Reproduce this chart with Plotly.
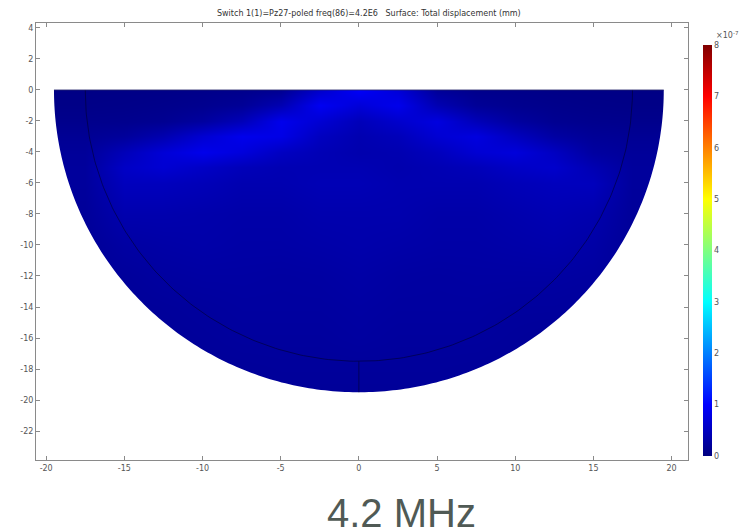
import numpy as np
import plotly.graph_objects as go

# ---- data (displacement, units of 1e-7 mm) ----
x_grid = [-20, -17.5, -15, -12.5, -10, -7.5, -5, -2.5, 0, 2.5, 5, 7.5, 10, 12.5, 15, 17.5, 20]
y_grid = [0, -1, -2, -3, -4, -5, -6, -8, -10, -12, -14, -16, -18, -20]
disp = [
    [0.04, 0.04, 0.05, 0.06, 0.08, 0.10, 0.15, 0.60, 0.95, 0.70, 0.20, 0.10, 0.08, 0.06, 0.05, 0.04, 0.04],
    [0.06, 0.06, 0.07, 0.09, 0.12, 0.18, 0.40, 0.90, 0.70, 0.85, 0.40, 0.18, 0.12, 0.09, 0.07, 0.06, 0.06],
    [0.10, 0.10, 0.11, 0.14, 0.25, 0.45, 0.85, 0.65, 0.45, 0.60, 0.75, 0.45, 0.25, 0.14, 0.11, 0.10, 0.10],
    [0.16, 0.16, 0.22, 0.38, 0.65, 0.85, 0.80, 0.50, 0.38, 0.45, 0.65, 0.75, 0.50, 0.28, 0.18, 0.16, 0.16],
    [0.20, 0.20, 0.45, 0.68, 0.85, 0.72, 0.52, 0.42, 0.36, 0.38, 0.48, 0.65, 0.72, 0.52, 0.26, 0.20, 0.20],
    [0.22, 0.22, 0.55, 0.65, 0.55, 0.45, 0.40, 0.40, 0.40, 0.36, 0.40, 0.45, 0.55, 0.60, 0.40, 0.22, 0.22],
    [0.22, 0.22, 0.48, 0.48, 0.44, 0.38, 0.38, 0.42, 0.42, 0.38, 0.38, 0.38, 0.44, 0.48, 0.48, 0.22, 0.22],
    [0.20, 0.20, 0.36, 0.36, 0.34, 0.32, 0.32, 0.36, 0.36, 0.36, 0.32, 0.32, 0.36, 0.40, 0.36, 0.20, 0.20],
    [0.18, 0.18, 0.27, 0.30, 0.32, 0.30, 0.30, 0.32, 0.34, 0.32, 0.30, 0.30, 0.32, 0.34, 0.30, 0.18, 0.18],
    [0.18, 0.18, 0.21, 0.25, 0.27, 0.27, 0.26, 0.27, 0.30, 0.27, 0.26, 0.27, 0.27, 0.27, 0.25, 0.18, 0.18],
    [0.18, 0.18, 0.19, 0.21, 0.23, 0.25, 0.25, 0.25, 0.27, 0.25, 0.25, 0.25, 0.23, 0.23, 0.21, 0.18, 0.18],
    [0.18, 0.18, 0.18, 0.19, 0.21, 0.23, 0.23, 0.23, 0.25, 0.23, 0.23, 0.23, 0.21, 0.19, 0.18, 0.18, 0.18],
    [0.18, 0.18, 0.18, 0.18, 0.19, 0.20, 0.21, 0.21, 0.21, 0.21, 0.21, 0.20, 0.19, 0.18, 0.18, 0.18, 0.18],
    [0.18, 0.18, 0.18, 0.18, 0.18, 0.19, 0.19, 0.19, 0.19, 0.19, 0.19, 0.19, 0.18, 0.18, 0.18, 0.18, 0.18],
]
outer_radius = 19.5
inner_radius = 17.5

x_ticks = [-20, -15, -10, -5, 0, 5, 10, 15, 20]
x_tick_text = ["-20", "-15", "-10", "-5", "0", "5", "10", "15", "20"]
y_ticks = [4, 2, 0, -2, -4, -6, -8, -10, -12, -14, -16, -18, -20, -22]
y_tick_text = ["4", "2", "0", "-2", "-4", "-6", "-8", "-10", "-12", "-14", "-16", "-18", "-20", "-22"]
cbar_ticks = [0, 1, 2, 3, 4, 5, 6, 7, 8]
cbar_tick_text = ["0", "1", "2", "3", "4", "5", "6", "7", "8"]

title_text = "Switch 1(1)=Pz27-poled freq(86)=4.2E6   Surface: Total displacement (mm)"
caption_text = "4.2 MHz"

jet = [
    [0.0, "rgb(0,0,128)"],
    [0.125, "rgb(0,0,255)"],
    [0.375, "rgb(0,255,255)"],
    [0.625, "rgb(255,255,0)"],
    [0.875, "rgb(255,0,0)"],
    [1.0, "rgb(128,0,0)"],
]

# page body has an 8px default margin; figure is sized/margined to compensate
W, H = 743, 522
ML, MR, MT, MB = 25, 63, 15, 70
PW, PH = W - ML - MR, H - MT - MB

fig = go.Figure()
fig.add_trace(go.Heatmap(
    x=x_grid, y=y_grid, z=disp, zmin=0, zmax=8, zsmooth="best",
    colorscale=jet, showscale=True, hoverinfo="skip",
    colorbar=dict(
        x=(695 - ML) / PW, xanchor="left", xpad=0,
        y=(MT + PH - 242.5) / PH, yanchor="middle", ypad=0,
        thickness=9, len=411, lenmode="pixels",
        outlinewidth=0, tickvals=cbar_ticks, ticktext=cbar_tick_text,
        ticks="", tickfont=dict(family="DejaVu Sans", size=8, color="#555555"),
        ticklabelposition="outside",
    ),
))

# white mask outside the half-disc (domain geometry)
theta = np.linspace(np.pi, 2 * np.pi, 240)
mx = [-22, -outer_radius] + list(outer_radius * np.cos(theta)) + [outer_radius, 22, 22, -22]
my = [0, 0] + list(outer_radius * np.sin(theta)) + [0, 0, -26, -26]
fig.add_trace(go.Scatter(x=mx, y=my, fill="toself", fillcolor="white", mode="none",
                         hoverinfo="skip", showlegend=False))
fig.add_trace(go.Scatter(x=[-22, 22, 22, -22], y=[0, 0, 6, 6], fill="toself", fillcolor="white",
                         mode="none", hoverinfo="skip", showlegend=False))

# boundary lines
fig.add_trace(go.Scatter(x=list(inner_radius * np.cos(theta)), y=list(inner_radius * np.sin(theta)),
                         mode="lines", line=dict(color="rgba(0,0,50,0.6)", width=1),
                         hoverinfo="skip", showlegend=False))
fig.add_trace(go.Scatter(x=[0, 0], y=[-inner_radius, -outer_radius], mode="lines",
                         line=dict(color="rgba(0,0,50,0.6)", width=1),
                         hoverinfo="skip", showlegend=False))
fig.add_trace(go.Scatter(x=[-outer_radius, outer_radius], y=[0, 0], mode="lines",
                         line=dict(color="rgba(40,40,110,0.8)", width=1),
                         hoverinfo="skip", showlegend=False))

axis_common = dict(
    showgrid=False, zeroline=False, showline=True, linecolor="#8a8a8a", linewidth=1,
    mirror="ticks", ticks="inside", ticklen=4, tickcolor="#8a8a8a",
    tickfont=dict(family="DejaVu Sans", size=8, color="#555555"),
)
fig.update_xaxes(range=[-20.65, 21.05], tickvals=x_ticks, ticktext=x_tick_text, **axis_common)
fig.update_yaxes(range=[-23.87, 4.32], tickvals=y_ticks, ticktext=y_tick_text, **axis_common)

fig.update_layout(
    width=W, height=H,
    margin=dict(l=ML, r=MR, t=MT, b=MB, pad=0),
    paper_bgcolor="white", plot_bgcolor="white",
    showlegend=False,
    annotations=[
        dict(text=title_text, xref="paper", yref="paper", x=(360 - ML) / PW, y=1 + 10 / PH,
             xanchor="center", yanchor="middle", showarrow=False,
             font=dict(family="DejaVu Sans", size=8, color="#333333")),
        dict(text="×10<sup>-7</sup>", xref="paper", yref="paper", x=(706 - ML) / PW, y=1 - 12 / PH,
             xanchor="left", yanchor="middle", showarrow=False,
             font=dict(family="DejaVu Sans", size=8, color="#555555")),
        dict(text=caption_text, xref="paper", yref="paper", x=(392 - ML) / PW, y=-53 / PH,
             xanchor="center", yanchor="middle", showarrow=False,
             font=dict(family="Liberation Sans", size=40, color="#505a55")),
    ],
)

fig.write_html("out.html")
